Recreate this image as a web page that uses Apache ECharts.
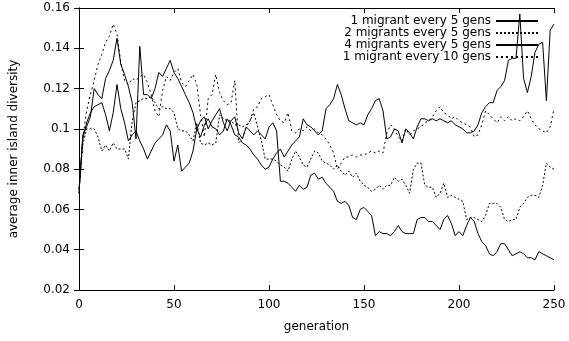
<!DOCTYPE html>
<html lang="en">
<head>
  <meta charset="UTF-8">
  <title>inner island diversity</title>
  <script src="https://cdn.jsdelivr.net/npm/echarts@6.0.0/dist/echarts.min.js"></script>
  <style>
    html, body { margin: 0; padding: 0; background: #fff; }
  </style>
</head>
<body>
<div id="main" style="width: 569px;height:341px;"></div>
<script type="text/javascript">

  // generation (x)
  const gens = [
    0, 2, 4, 6, 8, 10, 12, 14, 16, 18,
    20, 22, 24, 26, 28, 30, 32, 34, 36, 38,
    40, 42, 44, 46, 48, 50, 52, 54, 56, 58,
    60, 62, 64, 66, 68, 70, 72, 74, 76, 78,
    80, 82, 84, 86, 88, 90, 92, 94, 96, 98,
    100, 102, 104, 106, 108, 110, 112, 114, 116, 118,
    120, 122, 124, 126, 128, 130, 132, 134, 136, 138,
    140, 142, 144, 146, 148, 150, 152, 154, 156, 158,
    160, 162, 164, 166, 168, 170, 172, 174, 176, 178,
    180, 182, 184, 186, 188, 190, 192, 194, 196, 198,
    200, 202, 204, 206, 208, 210, 212, 214, 216, 218,
    220, 222, 224, 226, 228, 230, 232, 234, 236, 238,
    240, 242, 244, 246, 248, 250
  ];

  // 1 migrant every 5 gens
  const oneEvery5 = [
    0.068, 0.097, 0.101, 0.106, 0.120, 0.117, 0.115, 0.125, 0.129, 0.134,
    0.145, 0.132, 0.127, 0.121, 0.113, 0.095, 0.141, 0.117, 0.117, 0.115,
    0.120, 0.128, 0.126, 0.130, 0.134, 0.128, 0.125, 0.121, 0.117, 0.113,
    0.108, 0.100, 0.104, 0.106, 0.100, 0.104, 0.107, 0.110, 0.103, 0.099,
    0.104, 0.106, 0.098, 0.095, 0.101, 0.099, 0.097, 0.099, 0.097, 0.095,
    0.101, 0.103, 0.099, 0.074, 0.074, 0.073, 0.071, 0.069, 0.072, 0.070,
    0.071, 0.077, 0.078, 0.075, 0.076, 0.073, 0.071, 0.069, 0.064, 0.063,
    0.064, 0.062, 0.056, 0.055, 0.060, 0.061, 0.059, 0.057, 0.047, 0.049,
    0.048, 0.048, 0.047, 0.049, 0.052, 0.049, 0.048, 0.048, 0.048, 0.055,
    0.056, 0.056, 0.054, 0.054, 0.052, 0.050, 0.055, 0.057, 0.053, 0.047,
    0.049, 0.047, 0.052, 0.056, 0.054, 0.048, 0.044, 0.042, 0.038, 0.037,
    0.039, 0.043, 0.043, 0.040, 0.037, 0.038, 0.039, 0.038, 0.036, 0.036,
    0.035, 0.039, 0.038, 0.037, 0.036, 0.035
  ];

  // 2 migrants every 5 gens
  const twoEvery5 = [
    0.070, 0.092, 0.100, 0.100, 0.100, 0.096, 0.089, 0.092, 0.089, 0.093,
    0.090, 0.090, 0.090, 0.085, 0.104, 0.113, 0.114, 0.115, 0.115, 0.116,
    0.113, 0.110, 0.111, 0.110, 0.110, 0.108, 0.100, 0.099, 0.099, 0.097,
    0.094, 0.103, 0.093, 0.092, 0.093, 0.092, 0.093, 0.107, 0.105, 0.104,
    0.104, 0.102, 0.102, 0.101, 0.102, 0.104, 0.108, 0.101, 0.094, 0.085,
    0.085, 0.085, 0.084, 0.082, 0.081, 0.079, 0.085, 0.089, 0.086, 0.082,
    0.081, 0.085, 0.089, 0.088, 0.084, 0.083, 0.082, 0.080, 0.082, 0.079,
    0.077, 0.079, 0.076, 0.078, 0.074, 0.072, 0.071, 0.069, 0.070, 0.072,
    0.070, 0.072, 0.072, 0.076, 0.074, 0.075, 0.072, 0.068, 0.080, 0.083,
    0.083, 0.072, 0.071, 0.071, 0.066, 0.068, 0.073, 0.066, 0.067, 0.066,
    0.065, 0.064, 0.055, 0.056, 0.056, 0.055, 0.054, 0.057, 0.063, 0.063,
    0.063, 0.061, 0.055, 0.054, 0.055, 0.055, 0.061, 0.063, 0.066, 0.067,
    0.067, 0.066, 0.072, 0.083, 0.081, 0.080
  ];

  // 4 migrants every 5 gens
  const fourEvery5 = [
    0.070, 0.095, 0.103, 0.108, 0.111, 0.112, 0.113, 0.107, 0.099, 0.108,
    0.122, 0.110, 0.103, 0.094, 0.097, 0.099, 0.094, 0.090, 0.085, 0.089,
    0.093, 0.095, 0.097, 0.102, 0.099, 0.084, 0.092, 0.079, 0.081, 0.083,
    0.089, 0.100, 0.096, 0.102, 0.105, 0.101, 0.100, 0.097, 0.099, 0.105,
    0.102, 0.097, 0.096, 0.093, 0.092, 0.090, 0.087, 0.085, 0.082, 0.080,
    0.081, 0.085, 0.088, 0.090, 0.086, 0.089, 0.092, 0.094, 0.096, 0.105,
    0.102, 0.101, 0.099, 0.097, 0.099, 0.110, 0.112, 0.115, 0.122, 0.117,
    0.110, 0.104, 0.103, 0.102, 0.103, 0.102, 0.107, 0.110, 0.114, 0.115,
    0.109, 0.095, 0.096, 0.100, 0.099, 0.093, 0.100, 0.098, 0.095, 0.101,
    0.105, 0.105, 0.104, 0.105, 0.104, 0.105, 0.104, 0.103, 0.104, 0.102,
    0.101, 0.100, 0.098, 0.098, 0.099, 0.102, 0.108, 0.111, 0.113, 0.113,
    0.119, 0.121, 0.124, 0.134, 0.135, 0.135, 0.157, 0.125, 0.118, 0.126,
    0.138, 0.142, 0.143, 0.114, 0.149, 0.152
  ];

  // 1 migrant every 10 gens
  const oneEvery10 = [
    0.068, 0.095, 0.109, 0.117, 0.124, 0.132, 0.137, 0.143, 0.146, 0.152,
    0.147, 0.133, 0.124, 0.122, 0.125, 0.124, 0.126, 0.127, 0.123, 0.117,
    0.109, 0.106, 0.119, 0.126, 0.124, 0.128, 0.130, 0.123, 0.121, 0.124,
    0.127, 0.122, 0.107, 0.096, 0.115, 0.117, 0.127, 0.118, 0.114, 0.112,
    0.113, 0.124, 0.093, 0.095, 0.101, 0.104, 0.110, 0.111, 0.115, 0.116,
    0.117, 0.112, 0.107, 0.104, 0.103, 0.108, 0.099, 0.098, 0.100, 0.099,
    0.101, 0.099, 0.100, 0.098, 0.097, 0.095, 0.092, 0.088, 0.080, 0.083,
    0.086, 0.086, 0.087, 0.086, 0.087, 0.087, 0.088, 0.089, 0.088, 0.089,
    0.088, 0.098, 0.102, 0.100, 0.096, 0.094, 0.100, 0.097, 0.099, 0.100,
    0.101, 0.103, 0.104, 0.106, 0.109, 0.111, 0.108, 0.107, 0.105, 0.106,
    0.104, 0.103, 0.102, 0.101, 0.096, 0.097, 0.102, 0.109, 0.107, 0.105,
    0.103, 0.106, 0.104, 0.106, 0.104, 0.105, 0.104, 0.106, 0.109, 0.105,
    0.102, 0.100, 0.099, 0.098, 0.101, 0.110
  ];

  const names = [
    '1 migrant every 5 gens',
    '2 migrants every 5 gens',
    '4 migrants every 5 gens',
    '1 migrant every 10 gens'
  ];

  const font = 'DejaVu Sans';

  function pairs(vals) {
    return gens.map((g, i) => [g, vals[i]]);
  }

  function lineSeries(name, vals, dash) {
    return {
      name: name,
      type: 'line',
      data: pairs(vals),
      symbol: 'none',
      showSymbol: false,
      smooth: false,
      lineStyle: {color: '#000', width: 1, type: dash},
      itemStyle: {color: '#000'},
      emphasis: {disabled: true}
    };
  }

  const axisLine = {show: true, lineStyle: {color: '#000', width: 1}};
  const axisTick = {show: true, inside: true, length: 5, lineStyle: {color: '#000', width: 1}};

  var myChart = echarts.init(document.getElementById('main'), null, {renderer: 'canvas'});

  myChart.setOption({
    animation: false,
    backgroundColor: '#fff',
    textStyle: {fontFamily: font},
    grid: {left: 79, right: 15, top: 8, bottom: 51, containLabel: false},
    legend: {
      data: names,
      orient: 'vertical',
      right: 30,
      top: 15,
      padding: 0,
      align: 'right',
      itemWidth: 42,
      itemHeight: 14,
      itemGap: 0,
      // hide the marker drawn on the line sample
      itemStyle: {opacity: 0},
      textStyle: {fontFamily: font, fontSize: 12, color: '#000'},
      selectedMode: false
    },
    xAxis: [
      {
        type: 'value', min: 0, max: 250, interval: 50, position: 'bottom',
        axisLine: axisLine, axisTick: axisTick,
        axisLabel: {fontFamily: font, fontSize: 12, color: '#000', margin: 9},
        splitLine: {show: false},
        name: 'generation', nameLocation: 'middle', nameGap: 31,
        nameTextStyle: {fontFamily: font, fontSize: 12, color: '#000'}
      },
      {
        type: 'value', min: 0, max: 250, interval: 50, position: 'top',
        axisLine: axisLine, axisTick: axisTick,
        axisLabel: {show: false}, splitLine: {show: false}
      }
    ],
    yAxis: [
      {
        type: 'value', min: 0.02, max: 0.16, interval: 0.02, position: 'left',
        axisLine: axisLine, axisTick: axisTick,
        axisLabel: {fontFamily: font, fontSize: 12, color: '#000', margin: 9},
        splitLine: {show: false},
        name: 'average inner island diversity', nameLocation: 'middle', nameGap: 59,
        nameTextStyle: {fontFamily: font, fontSize: 12, color: '#000'}
      },
      {
        type: 'value', min: 0.02, max: 0.16, interval: 0.02, position: 'right',
        axisLine: axisLine, axisTick: axisTick,
        axisLabel: {show: false}, splitLine: {show: false}
      }
    ],
    series: [
      lineSeries(names[0], oneEvery5, 'solid'),
      lineSeries(names[1], twoEvery5, [2, 2]),
      lineSeries(names[2], fourEvery5, 'solid'),
      lineSeries(names[3], oneEvery10, [2, 3])
    ]
  });

</script>
</body>
</html>
